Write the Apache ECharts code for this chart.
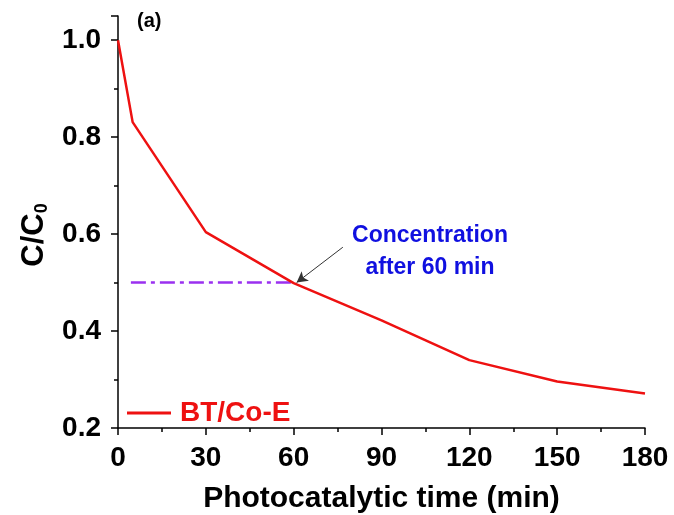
<!DOCTYPE html>
<html>
<head>
<meta charset="utf-8">
<script src="https://cdn.jsdelivr.net/npm/echarts@6/dist/echarts.min.js"></script>
<style>
  html, body { margin: 0; padding: 0; background: #fff; }
  #chart { width: 674px; height: 515px; }
</style>
</head>
<body>
<div id="chart"></div>
<script>
// Photocatalytic degradation of BT/Co-E: C/C0 versus irradiation time
const times = [0, 5, 30, 60, 90, 120, 150, 180];
const ratio = [1.0, 0.831, 0.604, 0.499, 0.422, 0.340, 0.296, 0.271];
const xTicks = [0, 30, 60, 90, 120, 150, 180];
const yTicks = [0.2, 0.4, 0.6, 0.8, 1.0];
const seriesName = 'BT/Co-E';
// reference level read at 60 min
const refTime = 60;
const refLevel = 0.5;
const refStart = 4.4;

const FONT = "'Liberation Sans', Arial, sans-serif";
const chart = echarts.init(document.getElementById('chart'));

chart.setOption({
  animation: false,
  backgroundColor: '#ffffff',
  grid: { left: 118, right: 29, top: 16, bottom: 87, containLabel: false, outerBoundsMode: 'none' },
  xAxis: {
    type: 'value',
    min: xTicks[0],
    max: xTicks[xTicks.length - 1],
    interval: 30,
    name: 'Photocatalytic time (min)',
    nameLocation: 'middle',
    nameGap: 56,
    nameTextStyle: { fontFamily: FONT, fontWeight: 'bold', fontSize: 30, color: '#000' },
    axisLine: { show: true, lineStyle: { color: '#000', width: 1.5 } },
    axisTick: { show: true, inside: false, length: 7, lineStyle: { color: '#000', width: 1.5 } },
    minorTick: { show: true, splitNumber: 2, length: 4, lineStyle: { color: '#000', width: 1.5 } },
    splitLine: { show: false },
    axisLabel: { fontFamily: FONT, fontWeight: 'bold', fontSize: 28, color: '#000', margin: 16 }
  },
  yAxis: {
    type: 'value',
    min: yTicks[0],
    max: 1.05,
    interval: 0.2,
    name: '{a|C/C}{s|0}',
    nameLocation: 'middle',
    nameRotate: 90,
    nameGap: 66,
    nameTextStyle: {
      padding: [0, 26, 0, 0],
      rich: {
        a: { fontFamily: FONT, fontWeight: 'bold', fontSize: 31, color: '#000' },
        s: { fontFamily: FONT, fontWeight: 'bold', fontSize: 18, color: '#000', padding: [16, 0, 0, 0] }
      }
    },
    axisLine: { show: true, lineStyle: { color: '#000', width: 1.5 } },
    axisTick: { show: true, inside: false, length: 7, lineStyle: { color: '#000', width: 1.5 } },
    minorTick: { show: true, splitNumber: 2, length: 4, lineStyle: { color: '#000', width: 1.5 } },
    splitLine: { show: false },
    axisLabel: {
      fontFamily: FONT, fontWeight: 'bold', fontSize: 28, color: '#000', margin: 17,
      showMaxLabel: false,
      formatter: v => (yTicks.some(t => Math.abs(t - v) < 1e-6) ? v.toFixed(1) : '')
    }
  },
  legend: {
    show: true,
    left: 122,
    top: 394,
    itemWidth: 44,
    itemHeight: 3,
    itemGap: 0,
    icon: 'rect',
    textStyle: { fontFamily: FONT, fontWeight: 'bold', fontSize: 28, color: '#ee1111', padding: [0, 0, 0, 4] },
    data: [{ name: seriesName, icon: 'rect' }]
  },
  series: [
    {
      name: seriesName,
      type: 'line',
      data: times.map((t, i) => [t, ratio[i]]),
      showSymbol: false,
      symbol: 'none',
      lineStyle: { color: '#ee1111', width: 2.5 },
      itemStyle: { color: '#ee1111' },
      z: 3,
      markLine: {
        silent: true,
        animation: false,
        label: { show: false },
        data: [
          [
            { coord: [76.8, 0.573], symbol: 'none' },
            { coord: [61.0, 0.5], symbol: 'arrow', symbolSize: [9, 11] }
          ]
        ],
        lineStyle: { color: '#333', width: 1, type: 'solid' },
        itemStyle: { color: '#111' }
      }
    },
    {
      name: 'ref',
      type: 'line',
      data: [[refStart, refLevel], [refTime, refLevel]],
      showSymbol: false,
      symbol: 'none',
      lineStyle: { color: '#9a30f0', width: 2.5, type: [15, 5, 4, 5] },
      z: 2
    }
  ],
  graphic: [
    {
      type: 'text', left: 137, top: 11,
      style: { text: '(a)', font: "bold 20px 'Liberation Sans', Arial, sans-serif", fill: '#000' }
    },
    {
      type: 'text', x: 430, y: 220,
      style: {
        text: 'Concentration\nafter 60 min',
        font: "bold 23px 'Liberation Sans', Arial, sans-serif",
        fill: '#1010e0',
        align: 'center',
        lineHeight: 32
      }
    }
  ]
});
</script>
</body>
</html>
